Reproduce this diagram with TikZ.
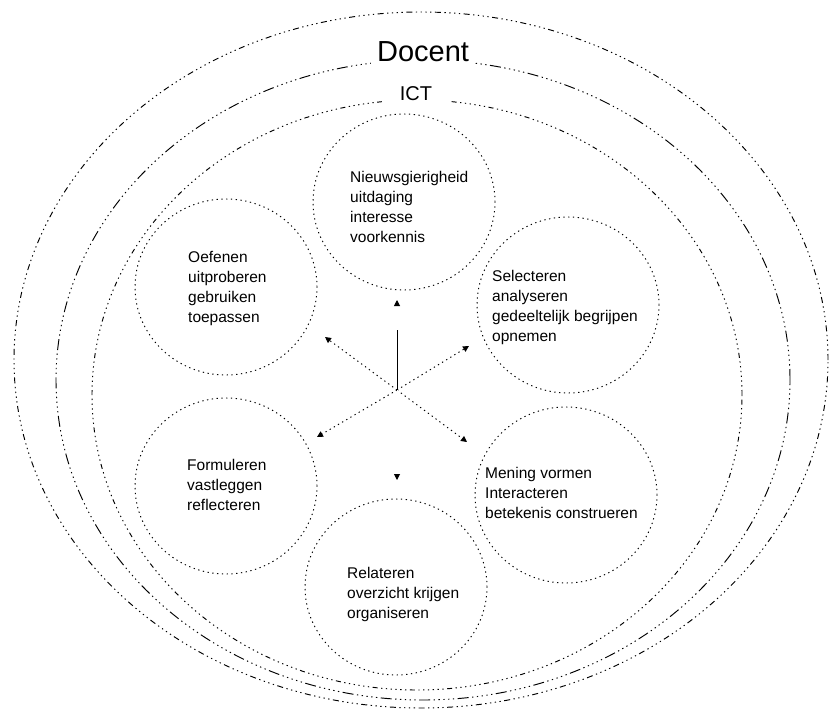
\documentclass[tikz,border=0pt]{standalone}
\usepackage{fontspec}
\setmainfont{Liberation Sans}
\usetikzlibrary{arrows.meta,shapes.geometric}
\begin{document}
\begin{tikzpicture}[x=1pt,y=-1pt,
  ring/.style={line width=0.95pt},
  eA/.style={ring,dash pattern=on 6pt off 3.5pt on 1.3pt off 3.5pt on 1.3pt off 3.5pt on 1.3pt off 3.5pt on 1.3pt off 3.5pt},
  eB/.style={ring,dash pattern=on 11pt off 3.5pt on 1.3pt off 3.5pt on 1.3pt off 3.5pt on 1.3pt off 3.5pt on 1.3pt off 3.5pt on 1.3pt off 3.5pt},
  eC/.style={ring,dash pattern=on 5pt off 3.5pt on 1.3pt off 3.5pt on 1.3pt off 3.5pt on 1.3pt off 3.5pt on 1.3pt off 3.5pt on 1.3pt off 3.5pt on 1.3pt off 3.5pt},
  circ/.style={draw,ellipse,line width=0.95pt,dash pattern=on 1.3pt off 3.5pt,minimum width=182pt,minimum height=176pt,inner sep=0pt},
  txt/.style={font=\fontsize{15.5}{20}\selectfont,align=left,inner sep=0pt,anchor=west},
  tip/.style={-{Triangle[length=6pt,width=6pt]}},
  dotline/.style={tip,line width=0.95pt,dash pattern=on 1.3pt off 3.5pt},
  title/.style={fill=white,inner ysep=3pt,anchor=base}
]
\useasboundingbox (0,0) rectangle (829,709);
% outer rings
\draw[eA] (421,360) ellipse [x radius=407pt, y radius=348pt];
\draw[eB] (423,380) ellipse [x radius=367pt, y radius=320pt];
\draw[eC] (417,395) ellipse [x radius=325pt, y radius=295pt];
\node[title,inner xsep=6pt,font=\fontsize{29}{33}\selectfont] (docent) at (423,62) {Docent};
\node[title,inner xsep=18pt,font=\fontsize{20}{24}\selectfont] (ict) at (416,100) {ICT};
% circles
\node[circ] (cN)  at (404,202) {};
\node[circ] (cUL) at (226,287) {};
\node[circ] (cUR) at (568,305) {};
\node[circ] (cLL) at (226,486) {};
\node[circ] (cLR) at (566,495) {};
\node[circ] (cB)  at (396,587) {};
% texts
\node[txt] (tN)  at (350,207) {Nieuwsgierigheid\\uitdaging\\interesse\\voorkennis};
\node[txt] (tUL) at (188,288) {Oefenen\\uitproberen\\gebruiken\\toepassen};
\node[txt] (tUR) at (492,307) {Selecteren\\analyseren\\gedeeltelijk begrijpen\\opnemen};
\node[txt] (tLL) at (187,485) {Formuleren\\vastleggen\\reflecteren};
\node[txt] (tLR) at (485,493) {Mening vormen\\Interacteren\\betekenis construeren};
\node[txt] (tB)  at (347,594) {Relateren\\overzicht krijgen\\organiseren};
% arrows
\coordinate (C) at (397,390);
\coordinate (aN) at (397,300);
\coordinate (aUL) at (325,337);
\coordinate (aUR) at (469,346);
\coordinate (aLL) at (317,437);
\coordinate (aLR) at (467,442);
\coordinate (aB) at (397,480);
\draw[tip,line width=0.95pt,dash pattern=on 60pt off 40pt] (C) -- (aN);
\draw[dotline] (C) -- (aUL);
\draw[dotline] (C) -- (aUR);
\draw[dotline] (C) -- (aLL);
\draw[dotline] (C) -- (aLR);
\draw[-{Triangle[length=6pt,width=6pt,black]},draw=white,line width=0.95pt] (C) -- (aB);
\end{tikzpicture}
\end{document}
